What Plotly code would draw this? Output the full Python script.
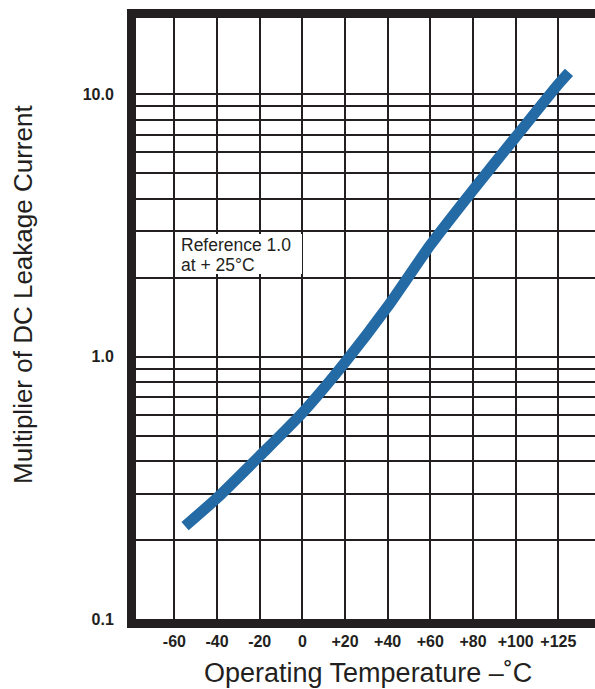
import numpy as np
import plotly.graph_objects as go

# ---- data ----
temps = [-55, -40, -20, 0, 20, 40, 60, 80, 100, 120, 125]
multiplier = [0.226, 0.289, 0.418, 0.61, 0.95, 1.55, 2.66, 4.31, 6.86, 10.9, 12.1]

x_tickvals = [-60, -40, -20, 0, 20, 40, 60, 80, 100, 120]
x_ticktext = ["-60", "-40", "-20", "0", "+20", "+40", "+60", "+80", "+100", "+125"]
y_tickvals = [0.1, 1, 10]
y_ticktext = ["0.1", "1.0", "10.0"]
y_minor = [0.2, 0.3, 0.4, 0.5, 0.6, 0.7, 0.8, 0.9, 2, 3, 4, 5, 6, 7, 8, 9]
note_lines = ["Reference 1.0", "at + 25°C"]

INK = "#231f20"
BLUE = "#246aa5"
FONT = "Liberation Sans, Arial, Helvetica, sans-serif"

fig = go.Figure()
fig.add_trace(go.Scatter(
    x=temps, y=multiplier, mode="lines",
    line=dict(color=BLUE, width=11, shape="spline", smoothing=0.6),
    hoverinfo="skip", showlegend=False,
))

cell_y = float(np.log10(np.sqrt(6)))  # middle of the 2..3 cell (log units)

fig.update_layout(
    width=595, height=689,
    margin=dict(l=136, r=0, t=18, b=70),
    paper_bgcolor="white", plot_bgcolor="white",
    font=dict(family=FONT, color=INK),
    xaxis=dict(
        range=[-78, 137.2], tickvals=x_tickvals, ticktext=x_ticktext,
        showgrid=True, gridcolor=INK, gridwidth=1.5,
        showline=True, linecolor=INK, linewidth=9, mirror=True,
        ticks="", zeroline=False,
        tickfont=dict(family=FONT, size=16, color=INK, weight="bold"),
        ticklabelstandoff=0,
    ),
    yaxis=dict(
        type="log", range=[-1.0, 1.29],
        tickvals=y_tickvals, ticktext=y_ticktext,
        showgrid=True, gridcolor=INK, gridwidth=1.5,
        minor=dict(tickvals=y_minor, showgrid=True, gridcolor=INK, gridwidth=1.5, ticks=""),
        showline=True, linecolor=INK, linewidth=9,
        ticks="", zeroline=False,
        tickfont=dict(family=FONT, size=16, color=INK, weight="bold"),
        ticklabelstandoff=10,
    ),
    annotations=[
        # white panel hiding the grid inside the note cell
        dict(
            text=" ", xref="x", yref="y", x=-59.3, y=cell_y,
            xanchor="left", yanchor="middle",
            width=126, height=40, borderpad=0, borderwidth=0,
            bgcolor="white", showarrow=False,
        ),
        dict(
            text=note_lines[0], xref="x", yref="y", x=-58, y=cell_y,
            xanchor="left", yanchor="middle", yshift=9, showarrow=False,
            font=dict(family=FONT, size=17.5, color=INK),
        ),
        dict(
            text=note_lines[1], xref="x", yref="y", x=-58, y=cell_y,
            xanchor="left", yanchor="middle", yshift=-11, showarrow=False,
            font=dict(family=FONT, size=17.5, color=INK),
        ),
        dict(
            text="Operating Temperature –˚C",
            xref="paper", yref="paper", x=(368 - 136) / 459, y=-(673 - 619) / 601,
            xanchor="center", yanchor="middle", showarrow=False,
            font=dict(family=FONT, size=27, color=INK),
        ),
        dict(
            text="Multiplier of DC Leakage Current",
            xref="paper", yref="paper", x=-(136 - 23) / 459, y=(619 - 295) / 601,
            xanchor="center", yanchor="middle", textangle=-90, showarrow=False,
            font=dict(family=FONT, size=26, color=INK),
        ),
    ],
)

fig.write_html("out.html")
